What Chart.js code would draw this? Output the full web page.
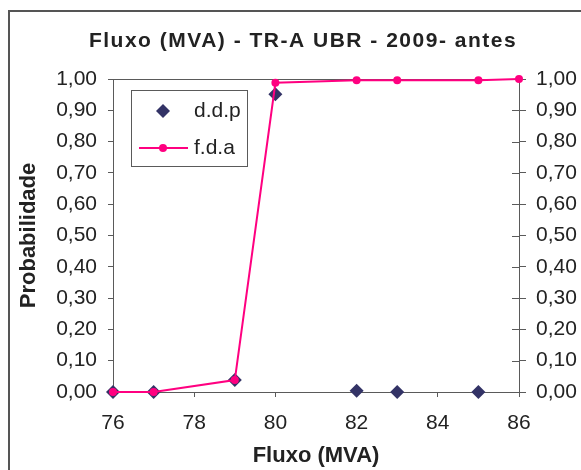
<!DOCTYPE html>
<html>
<head>
<meta charset="utf-8">
<script src="https://cdn.jsdelivr.net/npm/chart.js@4/dist/chart.umd.min.js"></script>
<style>
  html, body { margin: 0; padding: 0; background: #ffffff; }
  #wrap { width: 581px; height: 470px; position: relative; }
</style>
</head>
<body>
<div id="wrap"><canvas id="c" width="581" height="470"></canvas></div>
<script>
// Texts
const chartTitle = 'Fluxo (MVA) - TR-A UBR - 2009- antes';
const xTitle = 'Fluxo (MVA)';
const yTitle = 'Probabilidade';
const ddpLabel = 'd.d.p';
const fdaLabel = 'f.d.a';

// Probability density (d.d.p) and cumulative distribution (f.d.a)
const ddpFlux = [76, 77, 79, 80, 82, 83, 85];
const ddpProb = [0.000, 0.000, 0.038, 0.951, 0.004, 0.000, 0.000];
const fdaFlux = [76, 77, 79, 80, 82, 83, 85, 86];
const fdaProb = [0.000, 0.000, 0.038, 0.988, 0.996, 0.996, 0.996, 1.000];

// Axis ticks
const xTicks = [76, 78, 80, 82, 84, 86];
const yTicks = [0, 0.1, 0.2, 0.3, 0.4, 0.5, 0.6, 0.7, 0.8, 0.9, 1.0];

const FONT = "'Liberation Sans', Arial, sans-serif";
const TEXT = '#222222';
const AXIS = '#5a5a5a';
const PINK = '#FF0080';
const NAVY = '#333366';

const fmt = v => Number(v).toFixed(2).replace('.', ',');

function setTicks(values) {
  return scale => { scale.ticks = values.map(v => ({ value: v })); };
}

// Outer frame, plot top edge, inner half of the right-axis ticks, title and legend
const decorations = {
  id: 'decorations',
  beforeDraw(chart) {
    const ctx = chart.ctx;
    ctx.save();
    ctx.fillStyle = '#ffffff';
    ctx.fillRect(0, 0, chart.width, chart.height);
    ctx.strokeStyle = '#555555';
    ctx.lineWidth = 2;
    ctx.beginPath();
    ctx.moveTo(9, chart.height);
    ctx.lineTo(9, 11);
    ctx.lineTo(chart.width, 11);
    ctx.stroke();
    ctx.restore();
  },
  beforeDatasetsDraw(chart) {
    const ctx = chart.ctx;
    const a = chart.chartArea;
    const y2 = chart.scales.y2;
    ctx.save();
    ctx.strokeStyle = AXIS;
    ctx.lineWidth = 1;
    ctx.beginPath();
    ctx.moveTo(a.left, Math.round(a.top) + 0.5);
    ctx.lineTo(a.right, Math.round(a.top) + 0.5);
    y2.ticks.forEach(t => {
      const py = Math.round(y2.getPixelForValue(t.value)) + 0.5;
      ctx.moveTo(a.right - 7, py);
      ctx.lineTo(a.right, py);
    });
    ctx.stroke();

    // title
    ctx.fillStyle = TEXT;
    ctx.font = 'bold 21px ' + FONT;
    ctx.textAlign = 'center';
    ctx.textBaseline = 'middle';
    if ('letterSpacing' in ctx) ctx.letterSpacing = '1.5px';
    ctx.fillText(chartTitle, 303, 41);
    ctx.restore();
  },
  afterDraw(chart) {
    const ctx = chart.ctx;
    const ds = chart.data.datasets;
    const ddp = ds.find(d => d.label === ddpLabel);
    const fda = ds.find(d => d.label === fdaLabel);
    ctx.save();
    ctx.fillStyle = '#ffffff';
    ctx.fillRect(132, 91, 115, 75);
    ctx.strokeStyle = AXIS;
    ctx.lineWidth = 1;
    ctx.strokeRect(131.5, 90.5, 116, 76);

    // d.d.p entry: diamond
    ctx.fillStyle = ddp.backgroundColor;
    ctx.beginPath();
    ctx.moveTo(163, 104);
    ctx.lineTo(170, 111);
    ctx.lineTo(163, 118);
    ctx.lineTo(156, 111);
    ctx.closePath();
    ctx.fill();

    // f.d.a entry: line with circle
    ctx.strokeStyle = fda.borderColor;
    ctx.lineWidth = 2;
    ctx.beginPath();
    ctx.moveTo(139, 148);
    ctx.lineTo(188, 148);
    ctx.stroke();
    ctx.fillStyle = fda.backgroundColor;
    ctx.beginPath();
    ctx.arc(163, 148, 4, 0, Math.PI * 2);
    ctx.fill();

    ctx.fillStyle = TEXT;
    ctx.font = '21px ' + FONT;
    ctx.textAlign = 'left';
    ctx.textBaseline = 'middle';
    ctx.fillText(ddp.label, 194, 111);
    ctx.fillText(fda.label, 194, 148);
    ctx.restore();
  }
};

new Chart(document.getElementById('c'), {
  data: {
    datasets: [
      {
        type: 'line',
        label: ddpLabel,
        data: ddpFlux.map((x, i) => ({ x: x, y: ddpProb[i] })),
        showLine: false,
        pointStyle: 'rectRot',
        pointRadius: 7,
        pointHoverRadius: 7,
        backgroundColor: NAVY,
        borderColor: NAVY,
        borderWidth: 0,
        order: 1,
        clip: false,
        yAxisID: 'y'
      },
      {
        type: 'line',
        label: fdaLabel,
        data: fdaFlux.map((x, i) => ({ x: x, y: fdaProb[i] })),
        borderColor: PINK,
        backgroundColor: PINK,
        borderWidth: 2,
        pointStyle: 'circle',
        pointRadius: 4,
        pointHoverRadius: 4,
        pointBorderWidth: 0,
        tension: 0,
        order: 0,
        clip: false,
        yAxisID: 'y'
      }
    ]
  },
  options: {
    responsive: false,
    animation: false,
    devicePixelRatio: 1,
    layout: { padding: { top: 79, left: 0, right: 0, bottom: 0 } },
    plugins: {
      legend: { display: false },
      title: { display: false },
      tooltip: { enabled: false }
    },
    scales: {
      x: {
        type: 'linear',
        min: 76,
        max: 86,
        afterBuildTicks: setTicks(xTicks),
        afterFit: s => { s.height = 78; },
        grid: { drawOnChartArea: false, drawTicks: true, tickLength: 5, color: AXIS },
        border: { display: true, color: AXIS, width: 1 },
        ticks: { color: TEXT, font: { family: FONT, size: 21 }, padding: 14, maxRotation: 0 },
        title: { display: true, text: xTitle, color: TEXT, font: { family: FONT, size: 22, weight: 'bold' }, padding: { top: 0, bottom: 1 } }
      },
      y: {
        type: 'linear',
        position: 'left',
        min: 0,
        max: 1,
        afterBuildTicks: setTicks(yTicks),
        afterFit: s => { s.width = 113; },
        grid: { drawOnChartArea: false, drawTicks: true, tickLength: 5, color: AXIS },
        border: { display: true, color: AXIS, width: 1 },
        ticks: { color: TEXT, font: { family: FONT, size: 21 }, padding: 11, callback: v => fmt(v) },
        title: { display: true, text: yTitle, color: TEXT, font: { family: FONT, size: 22, weight: 'bold' }, padding: { top: 16, bottom: 0 } }
      },
      y2: {
        type: 'linear',
        position: 'right',
        min: 0,
        max: 1,
        afterBuildTicks: setTicks(yTicks),
        afterFit: s => { s.width = 62; },
        grid: { drawOnChartArea: false, drawTicks: true, tickLength: 7, color: AXIS },
        border: { display: true, color: AXIS, width: 1 },
        ticks: { color: TEXT, font: { family: FONT, size: 21 }, padding: 10, callback: v => fmt(v) }
      }
    }
  },
  plugins: [decorations]
});
</script>
</body>
</html>
